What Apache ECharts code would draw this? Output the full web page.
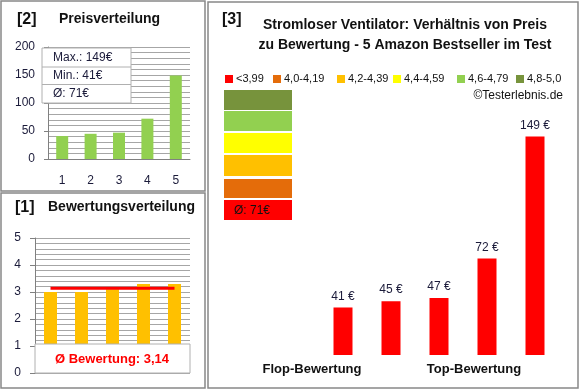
<!DOCTYPE html>
<html><head><meta charset="utf-8">
<script src="https://cdn.jsdelivr.net/npm/echarts@6/dist/echarts.min.js"></script>
<style>html,body{margin:0;padding:0;background:#fff}#c{width:580px;height:390px}</style>
</head><body><div id="c"></div>
<script>
var priceCats = ['1','2','3','4','5'];
var priceValues = [41, 45, 47, 72, 149];
var ratingValues = [3.0, 3.0, 3.1, 3.3, 3.3];
var ratingAvg = 3.14;
var mainCats = ['a','b','c','d','e','f','g'];
var mainValues = ['-', '-', 41, 45, 47, 72, 149];
var legendLabels = ['<3,99','4,0-4,19','4,2-4,39','4,4-4,59','4,6-4,79','4,8-5,0'];
var legendColors = ['#ff0000','#e46c0a','#ffc000','#ffff00','#92d050','#77933c'];
var priceBoxLines = ['Max.: 149€','Min.: 41€','Ø: 71€'];

var F = '"Liberation Sans", Arial, sans-serif';
var axisTxt = '#1b1b3a';
var grayLine = '#888888';
var gridGray = '#a6a6a6';

var chart = echarts.init(document.getElementById('c'), null, {renderer:'canvas'});

var g = [];
// panel borders
g.push({type:'rect', shape:{x:1,y:1,width:204,height:190}, style:{fill:null, stroke:grayLine, lineWidth:1.5}, z:1});
g.push({type:'rect', shape:{x:1,y:193,width:204,height:195}, style:{fill:null, stroke:grayLine, lineWidth:1.5}, z:1});
g.push({type:'rect', shape:{x:208,y:2,width:370,height:386}, style:{fill:null, stroke:grayLine, lineWidth:1.5}, z:1});
// titles
g.push({type:'text', x:17, y:20, style:{text:'[2]', font:'bold 16px '+F, fill:'#111', textVerticalAlign:'middle'}, z:10});
g.push({type:'text', x:59, y:19, style:{text:'Preisverteilung', font:'bold 14px '+F, fill:'#111', textVerticalAlign:'middle'}, z:10});
g.push({type:'text', x:15, y:208, style:{text:'[1]', font:'bold 16px '+F, fill:'#111', textVerticalAlign:'middle'}, z:10});
g.push({type:'text', x:48, y:207, style:{text:'Bewertungsverteilung', font:'bold 14px '+F, fill:'#111', textVerticalAlign:'middle'}, z:10});
g.push({type:'text', x:222, y:20, style:{text:'[3]', font:'bold 16px '+F, fill:'#111', textVerticalAlign:'middle'}, z:10});
g.push({type:'text', x:405, y:25, style:{text:'Stromloser Ventilator: Verhältnis von Preis', font:'bold 14px '+F, fill:'#111', textAlign:'center', textVerticalAlign:'middle'}, z:10});
g.push({type:'text', x:405, y:45, style:{text:'zu Bewertung - 5 Amazon Bestseller im Test', font:'bold 14px '+F, fill:'#111', textAlign:'center', textVerticalAlign:'middle'}, z:10});
// legend
var legX = [225, 273, 337, 393, 457, 516];
var legTX = [236, 284, 348, 404, 468, 527];
for (var i=0;i<legendLabels.length;i++){
  g.push({type:'rect', shape:{x:legX[i], y:75, width:8, height:8}, style:{fill:legendColors[i]}, z:10});
  g.push({type:'text', x:legTX[i], y:79, style:{text:legendLabels[i], font:'11px '+F, fill:'#111', textVerticalAlign:'middle'}, z:10});
}
g.push({type:'text', x:563, y:96, style:{text:'©Testerlebnis.de', font:'12px '+F, fill:'#111', textAlign:'right', textVerticalAlign:'middle'}, z:10});
// color stack
var stack = [[90,110,'#77933c'],[111,131,'#92d050'],[133,153,'#ffff00'],[155,176,'#ffc000'],[179,198,'#e46c0a'],[200,220,'#ff0000']];
stack.forEach(function(s){ g.push({type:'rect', shape:{x:224,y:s[0],width:68,height:s[1]-s[0]}, style:{fill:s[2]}, z:5}); });
g.push({type:'text', x:234, y:211, style:{text:'Ø: 71€', font:'12px '+F, fill:'#111', textVerticalAlign:'middle'}, z:10});
// flop / top labels
g.push({type:'text', x:312, y:369, style:{text:'Flop-Bewertung', font:'bold 13px '+F, fill:'#111', textAlign:'center', textVerticalAlign:'middle'}, z:10});
g.push({type:'text', x:474, y:369, style:{text:'Top-Bewertung', font:'bold 13px '+F, fill:'#111', textAlign:'center', textVerticalAlign:'middle'}, z:10});
// price info box
g.push({type:'rect', shape:{x:42,y:48,width:89,height:55}, style:{fill:'#fff', stroke:'#b0b0b0', lineWidth:1}, z:20});
g.push({type:'line', shape:{x1:42,y1:67,x2:131,y2:67}, style:{stroke:'#b0b0b0', lineWidth:1}, z:21});
g.push({type:'line', shape:{x1:42,y1:84.5,x2:131,y2:84.5}, style:{stroke:'#b0b0b0', lineWidth:1}, z:21});
var rowY = [58, 76, 94];
priceBoxLines.forEach(function(t,i){ g.push({type:'text', x:53, y:rowY[i], style:{text:t, font:'12px '+F, fill:axisTxt, textVerticalAlign:'middle'}, z:22}); });
// rating box
g.push({type:'rect', shape:{x:35,y:344,width:155,height:29}, style:{fill:'#fff', stroke:'#b0b0b0', lineWidth:1}, z:20});
g.push({type:'text', x:112, y:359, style:{text:'Ø Bewertung: 3,14', font:'bold 13px '+F, fill:'#ff0000', textAlign:'center', textVerticalAlign:'middle'}, z:22});

var option = {
  animation:false,
  backgroundColor:'#fff',
  grid:[
    {left:48, top:47, width:142, height:112},
    {left:35, top:238, width:155, height:135},
    {left:223, top:119, width:336, height:236}
  ],
  xAxis:[
    {gridIndex:0, type:'category', data:priceCats,
     axisLine:{lineStyle:{color:'#808080'}}, axisTick:{show:false},
     axisLabel:{color:axisTxt, fontSize:12, fontFamily:F, margin:16}},
    {gridIndex:1, type:'category', data:priceCats,
     axisLine:{show:false}, axisTick:{show:false}, axisLabel:{show:false}},
    {gridIndex:2, type:'category', data:mainCats, show:false}
  ],
  yAxis:[
    {gridIndex:0, type:'value', min:0, max:200, interval:50,
     axisLine:{show:true, lineStyle:{color:'#808080'}}, axisTick:{show:true, length:4, lineStyle:{color:'#808080'}},
     axisLabel:{color:axisTxt, fontSize:12, fontFamily:F, margin:13},
     splitLine:{lineStyle:{color:gridGray}}, minorTick:{show:false, splitNumber:5},
     minorSplitLine:{show:true, lineStyle:{color:gridGray}}},
    {gridIndex:1, type:'value', min:0, max:5, interval:1,
     axisLine:{show:true, lineStyle:{color:'#808080'}}, axisTick:{show:true, length:5, lineStyle:{color:'#808080'}},
     axisLabel:{color:axisTxt, fontSize:12, fontFamily:F, margin:14},
     splitLine:{lineStyle:{color:gridGray}}, minorTick:{show:false, splitNumber:5},
     minorSplitLine:{show:true, lineStyle:{color:gridGray}}},
    {gridIndex:2, type:'value', min:11, max:160, show:false, splitLine:{show:false}}
  ],
  series:[
    {type:'bar', xAxisIndex:0, yAxisIndex:0, data:priceValues, barWidth:12, itemStyle:{color:'#92d050'}},
    {type:'bar', xAxisIndex:1, yAxisIndex:1, data:ratingValues, barWidth:13, itemStyle:{color:'#ffc000'}},
    {type:'line', xAxisIndex:1, yAxisIndex:1, data:priceCats.map(function(){return ratingAvg;}), symbol:'none',
     lineStyle:{color:'#ff0000', width:3}, z:5},
    {type:'bar', xAxisIndex:2, yAxisIndex:2, data:mainValues, barWidth:19, itemStyle:{color:'#ff0000'},
     label:{show:true, position:'top', distance:5, formatter:function(p){return p.value+' €';}, color:axisTxt, fontSize:12, fontFamily:F}}
  ],
  graphic:g
};
chart.setOption(option);
</script>
</body></html>
